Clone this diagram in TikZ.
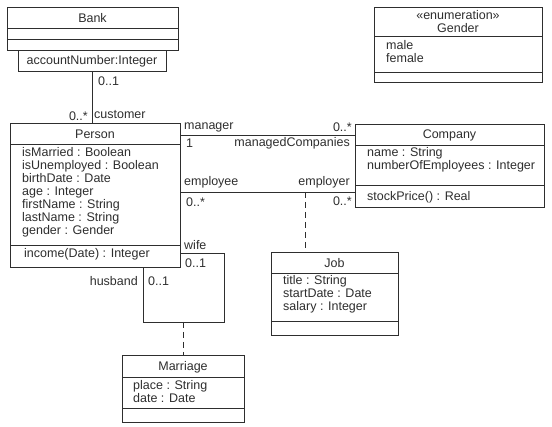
\documentclass[tikz,border=0pt]{standalone}
\usepackage{fontspec}
\setmainfont{Liberation Sans}
\usetikzlibrary{calc}
\definecolor{ink}{gray}{0.18}
\tikzset{
  box/.style={draw=ink, line width=0.9pt, anchor=north west, inner sep=0pt, fill=white},
  txt/.style={text=ink, inner sep=0pt, font=\fontsize{12.5}{13}\selectfont},
  attr/.style={txt, anchor=west, align=left},
  lab/.style={txt},
  conn/.style={draw=ink, line width=0.9pt},
  dconn/.style={conn, dash pattern=on 6pt off 4pt}
}
\newcommand\hsep[2]{\draw[conn] ($(#1.north west)+(0,#2)$) -- ($(#1.north east)+(0,#2)$);}
\begin{document}
\begin{tikzpicture}[x=1pt,y=-1pt]
\useasboundingbox (0,0) rectangle (552,427);
% Bank
\node[box, minimum width=171pt, minimum height=43pt] (bank) at (7,7) {};
\hsep{bank}{21}\hsep{bank}{32}
\node[txt] (bankname) at (92.5,18) {Bank};
\node[box, minimum width=148pt, minimum height=21pt] (qual) at (18,50) {};
\node[txt] (qualtxt) at (92,61) {accountNumber:Integer};
% Gender
\node[box, minimum width=168pt, minimum height=75pt] (gender) at (374,7) {};
\hsep{gender}{29}\hsep{gender}{65}
\node[txt, align=center] (gendername) at (458,21.5) {«enumeration»\\Gender};
\node[attr] (genderlit) at (386,51.5) {male\\female};
% Person
\node[box, minimum width=170pt, minimum height=144pt] (person) at (10,123) {};
\hsep{person}{21}\hsep{person}{122}
\node[txt] (personname) at (95,134) {Person};
\node[attr] (personattr) at (22,192) {isMarried : Boolean\\isUnemployed : Boolean\\birthDate : Date\\age : Integer\\firstName : String\\lastName : String\\gender : Gender};
\node[attr] (personop) at (24,254) {income(Date) : Integer};
% Company
\node[box, minimum width=189pt, minimum height=83pt] (company) at (355,124) {};
\hsep{company}{21}\hsep{company}{61}
\node[txt] (companyname) at (449.5,135) {Company};
\node[attr] (companyattr) at (367,160) {name : String\\numberOfEmployees : Integer};
\node[attr] (companyop) at (367,197) {stockPrice() : Real};
% Job
\node[box, minimum width=127pt, minimum height=83pt] (job) at (271,252) {};
\hsep{job}{21}\hsep{job}{69}
\node[txt] (jobname) at (334.5,263) {Job};
\node[attr] (jobattr) at (283,294) {title : String\\startDate : Date\\salary : Integer};
% Marriage
\node[box, minimum width=122pt, minimum height=67pt] (marriage) at (122,355) {};
\hsep{marriage}{22}\hsep{marriage}{53}
\node[txt] (marriagename) at (183,367) {Marriage};
\node[attr] (marriageattr) at (133,392) {place : String\\date : Date};
% helper coordinates
\coordinate (mgrY) at (0,135);
\coordinate (empY) at (0,192);
\coordinate (wifeY) at (0,253);
\coordinate (jobX) at (305,0);
\coordinate (loopC) at (224,322);
\coordinate (husbX) at (143,0);
\coordinate (marX) at (183,0);
% connectors
\draw[conn] (qual.south) -- (qual.south |- person.north);
\draw[conn] (person.east |- mgrY) -- (company.west |- mgrY);
\draw[conn] (person.east |- empY) -- (company.west |- empY);
\draw[dconn] (jobX |- empY) -- (jobX |- job.north);
\draw[conn] (person.east |- wifeY) -| (loopC) -| (husbX |- person.south);
\draw[dconn] (marX |- loopC) -- (marX |- marriage.north);
% labels
\node[lab, anchor=west] (l1) at (98,81) {0..1};
\node[lab, anchor=east] (l2) at (88,116) {0..*};
\node[lab, anchor=west] (l3) at (94,115) {customer};
\node[lab, anchor=west] (l4) at (184,127) {manager};
\node[lab, anchor=east] (l5) at (352,127) {0..*};
\node[lab, anchor=west] (l6) at (186,143) {1};
\node[lab, anchor=east] (l7) at (350,143) {managedCompanies};
\node[lab, anchor=west] (l8) at (184,182) {employee};
\node[lab, anchor=east] (l9) at (350,182) {employer};
\node[lab, anchor=west] (l10) at (186,202) {0..*};
\node[lab, anchor=east] (l11) at (352,201) {0..*};
\node[lab, anchor=west] (l12) at (184,245) {wife};
\node[lab, anchor=west] (l13) at (185,263) {0..1};
\node[lab, anchor=east] (l14) at (138,281) {husband};
\node[lab, anchor=west] (l15) at (148,281) {0..1};
\end{tikzpicture}
\end{document}
